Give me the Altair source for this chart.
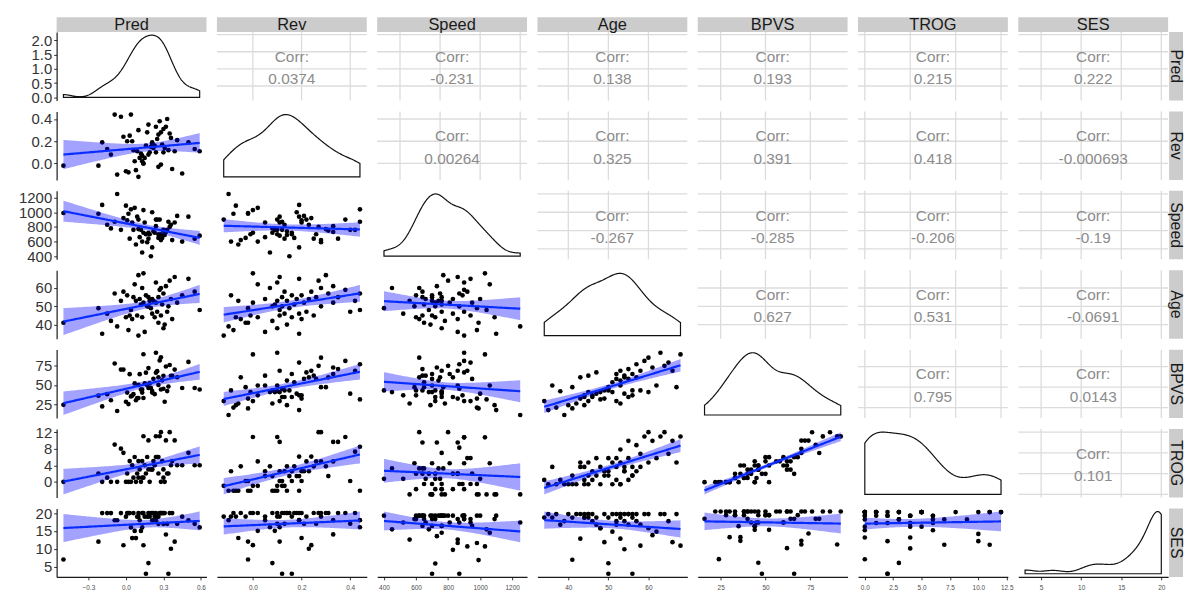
import altair as alt
import numpy as np
import pandas as pd

VARS = ["Pred", "Rev", "Speed", "Age", "BPVS", "TROG", "SES"]

pred = [0.10, -0.19, 0.15, 0.02, 0.30, -0.07, 0.31, -0.50, 0.26, -0.12,
        0.37, 0.05, 0.00, 0.23, 0.13, 0.03, 0.09, 0.28, 0.21, -0.15,
        0.25, 0.33, 0.59, 0.04, 0.20, -0.22, 0.34, 0.17, 0.12, 0.29,
        0.14, 0.24, 0.41, 0.19, -0.04, 0.08, 0.22, 0.36, 0.11, 0.21,
        0.26, 0.06, 0.18, 0.45, 0.16, 0.01, 0.30, -0.09, 0.55, -0.02,
        0.27, 0.13, 0.28, 0.32, 0.07, 0.24, 0.35, 0.50, 0.39, 0.10,
        0.14, 0.18]
rev = [-0.12, 0.19, 0.05, -0.08, 0.10, -0.10, 0.14, -0.02, -0.03, 0.08,
       -0.05, 0.20, -0.07, 0.16, 0.02, 0.25, 0.11, -0.01, 0.19, 0.13,
       0.22, 0.40, 0.11, 0.44, 0.15, -0.02, 0.12, 0.28, 0.09, 0.17,
       0.00, 0.33, 0.21, 0.10, 0.42, -0.06, 0.14, 0.23, 0.05, 0.18,
       0.26, 0.12, 0.35, -0.09, 0.16, 0.20, 0.31, 0.44, 0.13, 0.24,
       0.38, 0.07, 0.28, 0.33, 0.02, 0.10, 0.27, 0.19, 0.11, 0.30,
       0.00, 0.08]
speed = [900, 1100, 860, 980, 760, 1250, 690, 990, 650, 780,
         620, 860, 1090, 720, 600, 640, 940, 700, 520, 830,
         900, 760, 680, 1040, 400, 980, 870, 590, 760, 650,
         720, 810, 950, 700, 760, 560, 740, 830, 660, 1000,
         700, 760, 640, 600, 700, 890, 750, 870, 640, 920,
         900, 450, 620, 730, 1060, 900, 800, 940, 860, 770,
         1030, 720]
age = [34, 35, 36, 37, 38, 39, 40, 41, 41, 42,
       43, 43, 44, 44, 44, 45, 45, 45, 46, 46,
       47, 47, 48, 48, 49, 49, 50, 50, 51, 51,
       52, 52, 52, 53, 53, 53, 53, 54, 54, 54,
       55, 55, 55, 56, 56, 56, 57, 57, 58, 58,
       59, 60, 60, 61, 62, 63, 64, 65, 66, 67,
       68, 50]
bpvs = [33, 22, 52, 25, 45, 16, 28, 24, 50, 30,
        62, 36, 28, 38, 40, 64, 33, 44, 40, 38,
        68, 42, 44, 35, 46, 36, 48, 50, 44, 56,
        33, 66, 60, 52, 70, 30, 58, 62, 64, 42,
        60, 38, 72, 46, 66, 40, 62, 78, 46, 70,
        82, 44, 86, 74, 52, 92, 76, 80, 70, 50,
        90, 46]
trog = [1, 0, 4, 0, 1, 0, 0, 0, 2, 0,
        5, 4, 0, 4, 1, 5, 2, 0, 3, 1,
        6, 2, 4, 0, 3, 2, 2, 6, 0, 5,
        1, 6, 4, 0, 8, 0, 5, 4, 3, 3,
        6, 1, 10, 4, 2, 2, 3, 9, 4, 7,
        11, 5, 12, 10, 6, 11, 12, 7, 10, 5,
        11, 3]
ses = [19, 20, 19, 20, 17, 18, 20, 7, 19, 20,
       20, 13, 19, 19, 20, 20, 19, 20, 18, 20,
       19, 17, 16, 16, 20, 12, 3, 19, 15, 20,
       20, 18, 17, 19, 20, 13, 20, 10, 18, 20,
       17, 20, 20, 19, 3, 20, 20, 18, 17, 11,
       20, 16, 20, 14, 15, 20, 20, 18, 12, 20,
       11, 6]

# correlation labels, upper triangle in row order
corr_pairs = [(0, 1), (0, 2), (0, 3), (0, 4), (0, 5), (0, 6),
              (1, 2), (1, 3), (1, 4), (1, 5), (1, 6),
              (2, 3), (2, 4), (2, 5), (2, 6),
              (3, 4), (3, 5), (3, 6),
              (4, 5), (4, 6),
              (5, 6)]
corr_text = ["0.0374", "-0.231", "0.138", "0.193", "0.215", "0.222",
             "0.00264", "0.325", "0.391", "0.418", "-0.000693",
             "-0.267", "-0.285", "-0.206", "-0.19",
             "0.627", "0.531", "-0.0691",
             "0.795", "0.0143",
             "0.101"]

x_ticks = {"Pred": [-0.3, 0.0, 0.3, 0.6], "Rev": [0.0, 0.2, 0.4],
           "Speed": [400, 600, 800, 1000, 1200], "Age": [40, 50, 60],
           "BPVS": [25, 50, 75], "TROG": [0, 2.5, 5, 7.5, 10, 12.5],
           "SES": [5, 10, 15, 20]}
x_fmt = {"Pred": ".1f", "Rev": ".1f", "Speed": "d", "Age": "d",
         "BPVS": "d", "TROG": ".1f", "SES": "d"}
y_ticks = {"Rev": [0.0, 0.2, 0.4], "Speed": [400, 600, 800, 1000, 1200],
           "Age": [40, 50, 60], "BPVS": [25, 50, 75], "TROG": [0, 4, 8, 12],
           "SES": [5, 10, 15, 20]}
y_fmt = {"Rev": ".1f", "Speed": "d", "Age": "d", "BPVS": "d", "TROG": "d", "SES": "d"}
density_ticks = [0.0, 0.5, 1.0, 1.5, 2.0]
grid_ticks = {"Pred": [-0.3, 0.0, 0.3, 0.6], "Rev": [0.0, 0.2, 0.4],
              "Speed": [500, 750, 1000, 1250], "Age": [40, 50, 60, 70],
              "BPVS": [25, 50, 75], "TROG": [0, 4, 8, 12], "SES": [5, 10, 15, 20]}

cols = dict(zip(VARS, [pred, rev, speed, age, bpvs, trog, ses]))

W, H = 151, 69
FONT = "Liberation Sans"
T95 = 2.0


def expand(lo, hi):
    r = hi - lo
    return [lo - 0.05 * r, hi + 0.05 * r]


def domain(v):
    a = np.asarray(cols[v], float)
    return expand(a.min(), a.max())


def kde(vals):
    a = np.asarray(vals, float)
    n = len(a)
    sd = a.std(ddof=1)
    q75, q25 = np.percentile(a, [75, 25])
    bw = 0.9 * min(sd, (q75 - q25) / 1.34) * n ** -0.2
    g = np.linspace(a.min(), a.max(), 256)
    d = np.exp(-0.5 * ((g[:, None] - a[None, :]) / bw) ** 2).sum(1) / (n * bw * np.sqrt(2 * np.pi))
    return g, d


def band(xv, yv):
    x = np.asarray(xv, float)
    y = np.asarray(yv, float)
    b, a0 = np.polyfit(x, y, 1)
    n = len(x)
    res = y - (a0 + b * x)
    s = np.sqrt((res ** 2).sum() / (n - 2))
    xm = x.mean()
    sxx = ((x - xm) ** 2).sum()
    g = np.linspace(x.min(), x.max(), 80)
    fit = a0 + b * g
    se = s * np.sqrt(1.0 / n + (g - xm) ** 2 / sxx)
    return pd.DataFrame({"x": g, "fit": fit, "lo": fit - T95 * se, "hi": fit + T95 * se})


def xaxis(v, show):
    if not show:
        return None
    return alt.Axis(values=x_ticks[v], format=x_fmt[v], labelFontSize=6.5, labelFont=FONT,
                    labelColor="#4d4d4d", tickSize=3, tickColor="#333333", domainColor="#1a1a1a",
                    domainWidth=1.2, labelPadding=5, grid=False, title=None,
                    labelFlush=False, labelOverlap=False)


def yaxis(values, fmt, show):
    if not show:
        return None
    return alt.Axis(values=values, format=fmt, labelFontSize=15, labelFont=FONT,
                    labelColor="#333333", tickSize=3, tickColor="#333333", domainColor="#1a1a1a",
                    domainWidth=1.2, labelPadding=2, grid=False, title=None,
                    minExtent=45, maxExtent=45, labelFlush=False, labelOverlap=False)


def strips(i, j):
    layers = []
    if i == 0:
        d = pd.DataFrame({"t": [VARS[j]]})
        layers.append(alt.Chart(d).mark_rect(color="#cccccc").encode(
            x=alt.value(0), x2=alt.value(W), y=alt.value(-15), y2=alt.value(0)))
        layers.append(alt.Chart(d).mark_text(fontSize=16.5, font=FONT, color="#1a1a1a").encode(
            x=alt.value(W / 2), y=alt.value(-7), text="t:N"))
    if j == 6:
        d = pd.DataFrame({"t": [VARS[i]]})
        layers.append(alt.Chart(d).mark_rect(color="#cccccc").encode(
            x=alt.value(W + 1), x2=alt.value(W + 15), y=alt.value(0), y2=alt.value(H)))
        layers.append(alt.Chart(d).mark_text(fontSize=16, font=FONT, color="#1a1a1a", angle=90).encode(
            x=alt.value(W + 7.5), y=alt.value(H / 2), text="t:N"))
    return layers


def lower(i, j):
    xv, yv = VARS[j], VARS[i]
    bd = band(cols[xv], cols[yv])
    ya_ = np.asarray(cols[yv], float)
    ylo = min(ya_.min(), bd["lo"].min())
    yhi = max(ya_.max(), bd["hi"].max())
    xs = alt.Scale(domain=domain(xv), nice=False, zero=False)
    ys = alt.Scale(domain=expand(ylo, yhi), nice=False, zero=False)
    xa = xaxis(xv, i == 6)
    ya = yaxis(y_ticks[yv], y_fmt[yv], j == 0)
    d = pd.DataFrame({"x": cols[xv], "y": cols[yv]})
    pts = alt.Chart(d).mark_circle(size=22, color="black", opacity=1).encode(
        x=alt.X("x:Q", scale=xs, axis=xa), y=alt.Y("y:Q", scale=ys, axis=ya))
    bnd = alt.Chart(bd).mark_area(color="#0000ff", opacity=0.36).encode(
        x=alt.X("x:Q", scale=xs, axis=xa), y=alt.Y("lo:Q", scale=ys, axis=ya), y2="hi:Q")
    ln = alt.Chart(bd).mark_line(color="#0a2dff", strokeWidth=2.2).encode(
        x=alt.X("x:Q", scale=xs, axis=xa), y=alt.Y("fit:Q", scale=ys, axis=ya))
    return alt.layer(pts, bnd, ln, *strips(i, j)).properties(width=W, height=H)


def diag(i):
    v = VARS[i]
    g, dens = kde(cols[v])
    m = dens.max()
    dd = pd.DataFrame({"x": g, "d": dens, "z": 0.0})
    xs = alt.Scale(domain=domain(v), nice=False, zero=False)
    ys = alt.Scale(domain=[-0.05 * m, 1.05 * m], nice=False, zero=False)
    xa = xaxis(v, i == 6)
    ya = yaxis(density_ticks, ".1f", i == 0)
    ar = alt.Chart(dd).mark_area(fill="white", stroke="#111111", strokeWidth=1.2).encode(
        x=alt.X("x:Q", scale=xs, axis=xa), y=alt.Y("d:Q", scale=ys, axis=ya), y2="z:Q")
    return alt.layer(ar, *strips(i, i)).properties(width=W, height=H)


def upper(i, j, label):
    xv, yv = VARS[j], VARS[i]
    xd, yd = domain(xv), domain(yv)
    xs = alt.Scale(domain=xd, nice=False, zero=False)
    ys = alt.Scale(domain=yd, nice=False, zero=False)
    vx = [t for t in grid_ticks[xv] if xd[0] <= t <= xd[1]]
    vy = [t for t in grid_ticks[yv] if yd[0] <= t <= yd[1]]
    gx = alt.Chart(pd.DataFrame({"x": vx})).mark_rule(color="#dcdcdc", strokeWidth=1.3).encode(
        x=alt.X("x:Q", scale=xs, axis=None))
    gy = alt.Chart(pd.DataFrame({"y": vy})).mark_rule(color="#dcdcdc", strokeWidth=1.3).encode(
        y=alt.Y("y:Q", scale=ys, axis=None))
    td = pd.DataFrame({"x": [(xd[0] + xd[1]) / 2], "y": [(yd[0] + yd[1]) / 2],
                       "a": ["Corr:"], "b": [label]})
    t1 = alt.Chart(td).mark_text(fontSize=15.5, font=FONT, color="#8c8c8c", dy=-9.5).encode(
        x=alt.X("x:Q", scale=xs, axis=None), y=alt.Y("y:Q", scale=ys, axis=None), text="a:N")
    t2 = alt.Chart(td).mark_text(fontSize=15.5, font=FONT, color="#8c8c8c", dy=13).encode(
        x=alt.X("x:Q", scale=xs, axis=None), y=alt.Y("y:Q", scale=ys, axis=None), text="b:N")
    return alt.layer(gx, gy, t1, t2, *strips(i, j)).properties(width=W, height=H)


corr_map = dict(zip(corr_pairs, corr_text))
panels = []
for i in range(7):
    for j in range(7):
        if i == j:
            panels.append(diag(i))
        elif i > j:
            panels.append(lower(i, j))
        else:
            panels.append(upper(i, j, corr_map[(i, j)]))

chart = alt.concat(
    *panels, columns=7, spacing={"row": 11, "column": 10.5}, bounds="flush"
).resolve_scale(
    x="independent", y="independent"
).properties(
    padding={"left": 4, "top": 7, "right": 0, "bottom": 0}, background="white"
).configure_view(strokeWidth=0)

chart.save("out.html", embed_options={"renderer": "svg", "actions": False})
